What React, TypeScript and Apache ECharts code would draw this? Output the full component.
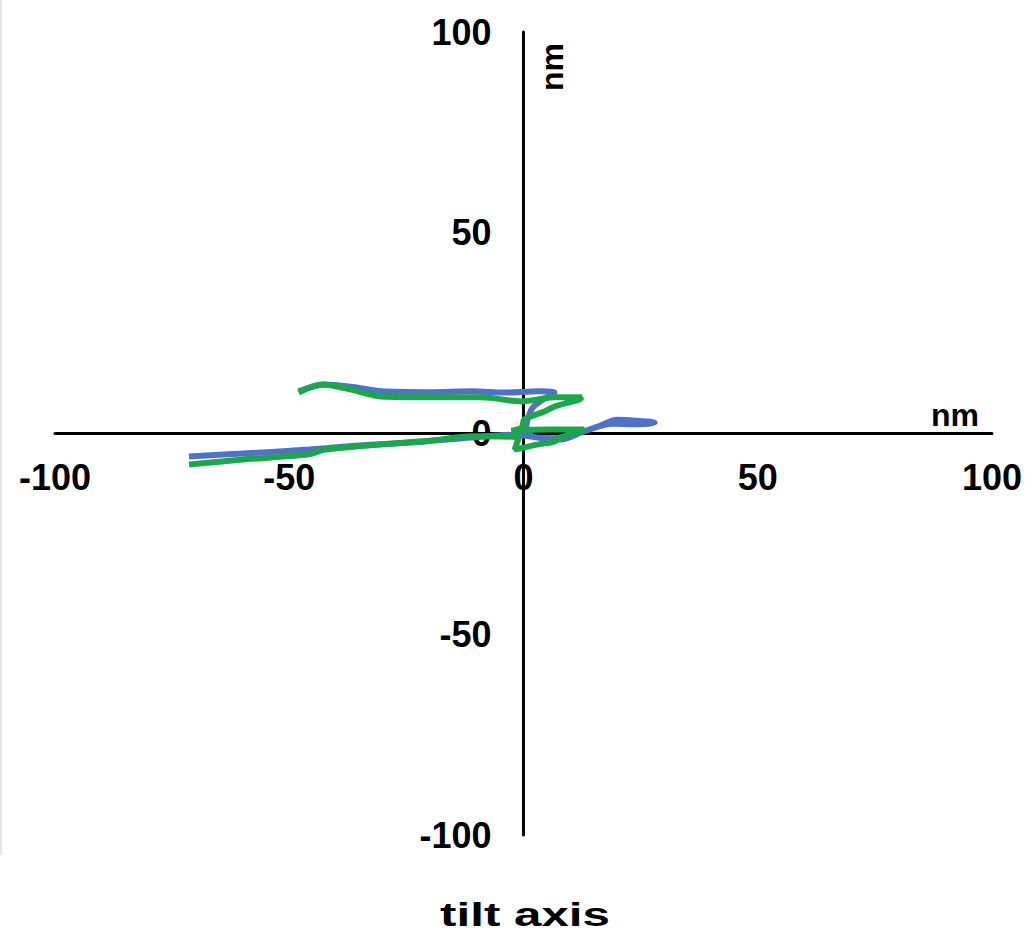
import React, { useEffect, useRef } from "react";
import * as echarts from "echarts";

const xTicks = [-100, -50, 0, 50, 100];
const yTicks = [-100, -50, 0, 50, 100];
const axisUnit = "nm";
const chartTitle = "tilt axis";

const blueTrace: [number, number][] = [
  [-71.4, -5.7], [-60, -5], [-45.8, -4.0], [-35, -3], [-23.2, -2.2], [-11.1, -1.0],
  [-1.5, -0.3], [3, -1], [8, -1.5], [12.4, 0.3], [16, 1.8], [20, 3.4], [24, 3.2],
  [28, 2.7], [24, 2.3], [19, 2.4], [12, 0.2], [6, -1.2], [2, -0.8], [0.6, 1.5],
  [1.7, 6], [3.2, 7.7], [6.6, 10.2], [3.2, 10.5], [-4, 10.2], [-11, 10.5],
  [-20, 10.3], [-30.3, 10.5], [-36, 11.5], [-42.4, 12.2], [-48, 10.5],
];

const greenTrace: [number, number][] = [
  [-48, 10.2], [-43, 12.2], [-37, 11], [-30.3, 9.2], [-19.6, 9], [-9, 9],
  [-0.4, 8], [6.6, 9], [12.4, 9], [12, 8.5], [6.6, 6.7], [4.5, 5.5], [0.2, 3.5],
  [-0.4, 1.5], [-2.6, 0.7], [5, 1], [13, 1], [8, -1], [6.6, -2], [3.2, -2.7],
  [-1.9, -4], [-1, -1], [-11.1, -0.7], [-20, -1.8], [-30.3, -2.7], [-42.4, -4],
  [-45.8, -5.2], [-60, -6.5], [-71.4, -7.7],
];

const GRID = { left: 55, right: 39, top: 32, bottom: 105 };
const W = 1031;
const H = 940;

export default function App() {
  const ref = useRef<HTMLDivElement>(null);
  useEffect(() => {
    if (!ref.current) return;
    const chart = echarts.init(ref.current, null, { renderer: "svg" });
    const font = "'Liberation Sans', Arial, sans-serif";
    const plotW = W - GRID.left - GRID.right;
    const plotH = H - GRID.top - GRID.bottom;
    // place axes at the zero crossing via offset
    const xOffset = -(plotH / 2);
    const yOffset = -(plotW / 2);
    chart.setOption({
      animation: false,
      backgroundColor: "#ffffff",
      grid: { ...GRID, outerBoundsMode: "none", containLabel: false },
      xAxis: {
        type: "value",
        min: xTicks[0],
        max: xTicks[xTicks.length - 1],
        interval: 50,
        position: "bottom",
        offset: xOffset,
        splitLine: { show: false },
        axisTick: { show: false },
        axisLine: { onZero: false, lineStyle: { color: "#000", width: 3 } },
        axisLabel: {
          margin: 26,
          color: "#000",
          fontFamily: font,
          fontWeight: "bold",
          fontSize: 36,
          showMinLabel: true,
          showMaxLabel: true,
        },
      },
      yAxis: {
        type: "value",
        min: yTicks[0],
        max: yTicks[yTicks.length - 1],
        interval: 50,
        position: "left",
        offset: yOffset,
        splitLine: { show: false },
        axisTick: { show: false },
        axisLine: { onZero: false, lineStyle: { color: "#000", width: 3 } },
        axisLabel: {
          margin: 32,
          color: "#000",
          fontFamily: font,
          fontWeight: "bold",
          fontSize: 36,
          showMinLabel: true,
          showMaxLabel: true,
        },
      },
      graphic: [
        {
          type: "line",
          shape: { x1: 1, y1: 0, x2: 1, y2: 855 },
          style: { stroke: "#dddddd", lineWidth: 1.5 },
        },
        {
          type: "text",
          x: 552,
          y: 67,
          rotation: Math.PI / 2,
          style: {
            text: axisUnit,
            font: `bold 32px ${font}`,
            fill: "#000",
            align: "center",
            verticalAlign: "middle",
          },
        },
        {
          type: "text",
          x: 955,
          y: 415,
          style: {
            text: axisUnit,
            font: `bold 32px ${font}`,
            fill: "#000",
            align: "center",
            verticalAlign: "middle",
          },
        },
        {
          type: "text",
          x: 525,
          y: 914,
          scaleX: 1.45,
          style: {
            text: chartTitle,
            font: `bold 34px ${font}`,
            fill: "#000",
            align: "center",
            verticalAlign: "middle",
          },
        },
      ],
      series: [
        {
          type: "line",
          data: blueTrace,
          showSymbol: false,
          smooth: 0.3,
          lineStyle: { color: "#4f72c9", width: 6 },
        },
        {
          type: "line",
          data: greenTrace,
          showSymbol: false,
          smooth: 0.3,
          lineStyle: { color: "#1ba84c", width: 6 },
        },
      ],
    });
    return () => chart.dispose();
  }, []);
  return (
    <div
      ref={ref}
      style={{ position: "fixed", left: 0, top: 0, width: W, height: H }}
    />
  );
}
